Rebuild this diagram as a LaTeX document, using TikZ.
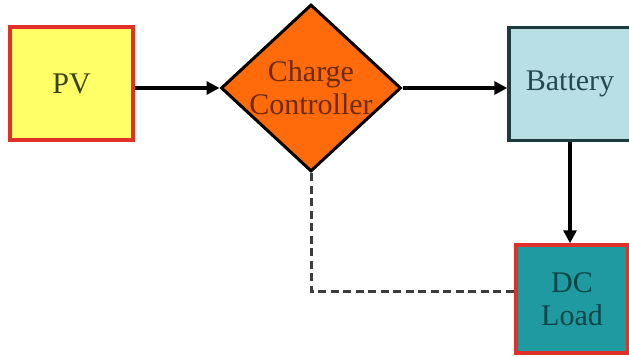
\documentclass[tikz,border=0pt]{standalone}
\usepackage{fontspec}
\setmainfont{Liberation Serif}
\usetikzlibrary{shapes.geometric,arrows.meta}
\definecolor{pvfill}{HTML}{FFFF66}
\definecolor{pvtext}{HTML}{3A4210}
\definecolor{redline}{HTML}{E0302A}
\definecolor{ccfill}{HTML}{FF6A0A}
\definecolor{cctext}{HTML}{6E2A05}
\definecolor{batfill}{HTML}{B8DEE6}
\definecolor{batline}{HTML}{1E3A3C}
\definecolor{battext}{HTML}{24494F}
\definecolor{dcfill}{HTML}{1F9AA0}
\definecolor{dctext}{HTML}{0C4447}
\definecolor{dashgray}{HTML}{3C3C3C}
\tikzset{
  block/.style={rectangle, line width=3.5pt, inner sep=0pt, font=\fontsize{30}{33}\selectfont, align=center},
  flow/.style={line width=3.5pt, -{Triangle[length=13pt,width=13pt]}},
  link/.style={line width=3pt, draw=dashgray, dash pattern=on 8pt off 4.5pt}
}
\begin{document}
\begin{tikzpicture}[x=1pt,y=-1pt]
  \useasboundingbox (0,0) rectangle (629,356);

  % blocks
  \node[block, draw=redline, fill=pvfill, text=pvtext,
        minimum width=123pt, minimum height=113pt] (pv) at (71.5,83.5) {PV};
  \node[diamond, draw=black, line width=3pt, fill=ccfill, inner sep=0pt,
        minimum width=180pt, minimum height=167pt] (cc) at (311,88) {};
  \node[block, text=cctext] (cclabel) at (cc.center) {Charge\\Controller};
  \node[block, draw=batline, fill=batfill, text=battext,
        minimum width=122pt, minimum height=113pt] (bat) at (570,84) {Battery};
  \node[block, draw=redline, fill=dcfill, text=dctext,
        minimum width=112pt, minimum height=108pt] (dc) at (572,299) {DC\\Load};

  % connectors
  \draw[flow] (pv.east |- cc.west) -- (cc.west);
  \draw[flow] (cc.east) -- (bat.west |- cc.east);
  \draw[flow] (bat.south) -- (dc.north -| bat.south);
  \draw[link] (cc.south) |- ([yshift=8pt]dc.west);
\end{tikzpicture}
\end{document}
